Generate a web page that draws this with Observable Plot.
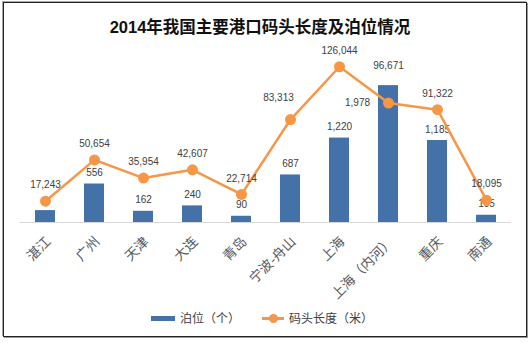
<!DOCTYPE html>
<html>
<head>
<meta charset="utf-8">
<script src="https://cdn.jsdelivr.net/npm/d3@7"></script>
<script src="https://cdn.jsdelivr.net/npm/@observablehq/plot@0.6"></script>
<style>
  html, body { margin: 0; padding: 0; background: #fff; }
  #wrap { position: relative; width: 530px; height: 343px; overflow: hidden; font-family: "Liberation Sans", Arial, sans-serif; }
  #frame { position: absolute; left: 3px; top: 2px; width: 522px; height: 333px; border: 1.5px solid #222; box-shadow: 1px 1px 0 #999, -1px -1px 0 #aaa; }
  #title { position: absolute; left: 0; width: 520px; top: 14px; text-align: center; font: bold 16.5px "Liberation Sans", "Noto Sans CJK SC", sans-serif; color: #111; }
  #chart { position: absolute; left: 0; top: 0; }
  #legend { position: absolute; top: 310px; left: 0; width: 530px; height: 18px; font: 12px "Noto Sans CJK SC", sans-serif; color: #404040; }
  .sw { position: absolute; }
</style>
</head>
<body>
<div id="wrap">
  <div id="chart"></div>
  <div id="frame"></div>
  <div id="title">2014年我国主要港口码头长度及泊位情况</div>
  <div id="legend">
    <div class="sw" style="left:151px;top:6px;width:24px;height:5px;background:#4472A8;"></div>
    <div class="sw" style="left:180px;top:0px;line-height:16px;">泊位（个）</div>
    <div class="sw" style="left:262px;top:7px;width:22px;height:2.5px;background:#F79646;"></div>
    <div class="sw" style="left:268.5px;top:4px;width:9px;height:9px;border-radius:50%;background:#F79646;"></div>
    <div class="sw" style="left:289px;top:0px;line-height:16px;">码头长度（米）</div>
  </div>
</div>
<script>
const categories = ["湛江", "广州", "天津", "大连", "青岛", "宁波-舟山", "上海", "上海（内河）", "重庆", "南通"];
const berths = [172, 556, 162, 240, 90, 687, 1220, 1978, 1185, 105];
const lengths = [17243, 50654, 35954, 42607, 22714, 83313, 126044, 96671, 91322, 18095];
const berthMax = 2500;
const lengthMax = 140000;

const data = categories.map((c, i) => ({cat: c, berths: berths[i], length: lengths[i]}));
const lenY = d => d.length / lengthMax * berthMax;
const fmt = d3.format(",");
const orange = "#F79646";
const blue = "#4472A8";
const labelFont = {fontSize: 10, fill: "#404040", fontFamily: "Liberation Sans, Arial, sans-serif"};

const plot = Plot.plot({
  width: 530,
  height: 343,
  marginLeft: 19.5,
  marginRight: 19,
  marginTop: 49,
  marginBottom: 121,
  style: {background: "transparent"},
  x: {domain: categories, paddingInner: 0.593, paddingOuter: 0.2966, label: null},
  y: {domain: [0, berthMax], axis: null},
  marks: [
    Plot.ruleY([0], {stroke: "#d9d9d9", strokeWidth: 1}),
    Plot.barY(data, {x: "cat", y: "berths", fill: blue}),
    Plot.text(data.filter(d => d.cat !== "湛江" && d.cat !== "上海（内河）"), {x: "cat", y: "berths", text: d => fmt(d.berths), dy: -11, ...labelFont}),
    Plot.text(data.filter(d => d.cat === "上海（内河）"), {x: "cat", y: "berths", text: d => fmt(d.berths), dx: -31, dy: 17, ...labelFont}),
    Plot.line(data, {x: "cat", y: lenY, stroke: orange, strokeWidth: 2.5}),
    Plot.dot(data, {x: "cat", y: lenY, r: 5.5, fill: orange, stroke: "none"}),
    Plot.text(data.filter(d => d.cat !== "宁波-舟山" && d.cat !== "上海（内河）"), {x: "cat", y: lenY, text: d => fmt(d.length), dy: -16, ...labelFont}),
    Plot.text(data.filter(d => d.cat === "宁波-舟山"), {x: "cat", y: lenY, text: d => fmt(d.length), dx: -12, dy: -22, ...labelFont}),
    Plot.text(data.filter(d => d.cat === "上海（内河）"), {x: "cat", y: lenY, text: d => fmt(d.length), dy: -37, ...labelFont}),
    Plot.axisX({tickRotate: -45, tickSize: 0, tickPadding: 16, dx: 3, dy: 1, fontSize: 13.5, fill: "#595959", fontFamily: "Noto Sans CJK SC, sans-serif", label: null})
  ]
});
document.getElementById("chart").appendChild(plot);
</script>
</body>
</html>
